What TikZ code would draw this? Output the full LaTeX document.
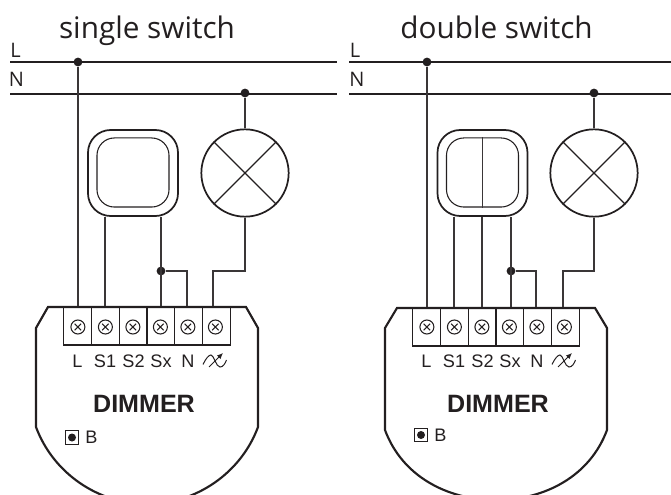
\documentclass[tikz,border=0pt]{standalone}
\usepackage{fontspec}
\setmainfont{Liberation Sans}
\newfontfamily\titlefont{Open Sans}
\usetikzlibrary{shapes.misc,arrows.meta}
\definecolor{ink}{HTML}{231F20}
\definecolor{wireink}{HTML}{3A3637}
\tikzset{
  rail/.style={line width=1.5pt,draw=ink},
  wire/.style={line width=1.2pt,draw=wireink},
  dotnode/.style={circle,fill=ink,inner sep=0pt,minimum size=6.6pt},
  shell/.style={line width=1.6pt,draw=ink},
  terminal/.style={rectangle,draw=ink,line width=.9pt,inner sep=0pt,minimum width=20.85pt,minimum height=28.5pt},
  screw/.style={circle,draw=ink,line width=.8pt,inner sep=0pt,minimum size=10.5pt},
  screwx/.style={cross out,draw=ink,line width=.7pt,inner sep=0pt,minimum size=4.2pt},
  swouter/.style={rectangle,rounded corners=17pt,draw=ink,line width=1.3pt,inner sep=0pt,minimum width=67.5pt,minimum height=64.5pt},
  swinner/.style={rectangle,rounded corners=13pt,draw=ink,line width=.8pt,inner sep=0pt,minimum width=54pt,minimum height=51.8pt},
  lampnode/.style={circle,draw=ink,line width=1.3pt,inner sep=0pt,minimum size=65.5pt},
  lampx/.style={line width=.9pt,draw=ink},
  lbl/.style={inner sep=0pt,text=ink,font=\fontsize{13.6}{15}\selectfont},
  railtext/.style={inner sep=0pt,text=ink,font=\titlefont\fontsize{15}{17}\selectfont},
  title/.style={inner sep=0pt,text=ink,font=\titlefont\fontsize{22.3}{26}\selectfont,anchor=base},
  dimname/.style={inner sep=0pt,text=ink,font=\bfseries\fontsize{18.8}{20}\selectfont},
}
\newcommand{\dimmerbody}[6]{%
  \draw[shell] (#1,328) -- (#1+12,#5) -- (#1+210,#5) -- (#1+222,328) -- (#1+222,#2)
    .. controls (#1+205,#2+46) and (#1+160,#3) .. (#1+111,#3)
    .. controls (#1+62,#3) and (#1+17,#2+46) .. (#1,#2) -- cycle;
  \foreach \nm/\i in {tL/0,tA/1,tB/2,tC/3,tN/4,tD/5}{
    \node[terminal] (\nm) at (#4+13.9+\i*27.8,#5+19) {};
    \node[screw] (s\nm) at (#4+14.4+\i*27.5,327) {};
    \node[screwx] (x\nm) at (#4+14.4+\i*27.5,327) {};
  }
  \node[lbl] (lL) at (#4+14,361) {L};
  \node[lbl] (lA) at (#4+41.5,361) {S1};
  \node[lbl] (lB) at (#4+70,361) {S2};
  \node[lbl] (lC) at (#4+97.5,361) {Sx};
  \node[lbl] (lN) at (#4+124.5,361) {N};
  \node[dimname] (dim) at (#6,404) {DIMMER};
  \begin{scope}[shift={(#4+151.5,361)}]
    \draw[ink,line width=.75pt] (-12,3.5) .. controls (-9,-3) and (-6,-6) .. (-4,-6)
      .. controls (-1,-6) and (1,6) .. (5,6) .. controls (8,6) and (10,3) .. (11.5,-1);
    \draw[ink,line width=.75pt,-{Latex[length=4.5pt,width=4pt]}] (-6,6) -- (8,-8);
  \end{scope}
}
\begin{document}
\begin{tikzpicture}[x=.75pt,y=-.75pt]
\useasboundingbox (0,0) rectangle (671,495);
\clip (0,0) rectangle (671,495);
% ---------- left panel
\begin{scope}[name prefix=a-]
  \node[title] (title) at (147,38.5) {single switch};
  \node[railtext] (rl) at (15.5,50) {L};
  \node[railtext] (rn) at (16.5,79) {N};
  \coordinate (l0) at (10,62); \coordinate (l1) at (337,62);
  \coordinate (n0) at (10,94); \coordinate (n1) at (337,94);
  \draw[rail] (l0) -- (l1);
  \draw[rail] (n0) -- (n1);
  \node[dotnode] (d1) at (78,62) {};
  \node[dotnode] (d2) at (245,93) {};
  \node[swouter] (sw) at (133,173) {};
  \node[swinner] (swi) at (133,172.5) {};
  \node[lampnode] (lamp) at (245,173) {};
  \draw[lampx] (lamp.45) -- (lamp.225) (lamp.135) -- (lamp.315);
  \dimmerbody{36}{427}{504}{63.5}{307}{144}
  \coordinate (b1) at (213,271);
  \coordinate (b2) at (245,271);
  \node[dotnode] (d3) at (161,271) {};
  \draw[wire] (d1) -- (d1 |- tL.north);
  \draw[wire] (d2) -- (lamp.north);
  \draw[wire] (sw.south -| tA.north) -- (tA.north);
  \draw[wire] (sw.south -| d3) -- (d3 |- tC.north);
  \draw[wire] (d3) -| ([xshift=-1pt]tN.north);
  \draw[wire] (lamp.south) -- (b2) -- (b1) -- (b1 |- tD.north);
  \node[rectangle,draw=ink,line width=.7pt,inner sep=0pt,minimum size=10.3pt] (bb) at (72,437.5) {};
  \node[circle,fill=ink,inner sep=0pt,minimum size=6pt] (bd) at (bb) {};
  \node[lbl,anchor=west] (bt) at (85,437) {B};
\end{scope}
% ---------- right panel
\begin{scope}[name prefix=b-]
  \node[title] (title) at (496.5,38.5) {double switch};
  \node[railtext] (rl) at (355,50) {L};
  \node[railtext] (rn) at (357,79) {N};
  \coordinate (l0) at (349,62); \coordinate (l1) at (671,62);
  \coordinate (n0) at (349,94); \coordinate (n1) at (671,94);
  \draw[rail] (l0) -- (l1);
  \draw[rail] (n0) -- (n1);
  \node[dotnode] (d1) at (427,62) {};
  \node[dotnode] (d2) at (594,93) {};
  \node[swouter] (sw) at (482.5,173) {};
  \node[swinner] (swi) at (482.5,172.5) {};
  \draw[wire] (swi.north) -- (swi.south);
  \node[lampnode] (lamp) at (594,173) {};
  \draw[lampx] (lamp.45) -- (lamp.225) (lamp.135) -- (lamp.315);
  \dimmerbody{385}{430}{500}{412.5}{308}{498}
  \coordinate (b1) at (563,271);
  \coordinate (b2) at (594,271);
  \node[dotnode] (d3) at (511,271) {};
  \draw[wire] (d1) -- (d1 |- tL.north);
  \draw[wire] (d2) -- (lamp.north);
  \draw[wire] (sw.south -| tA.north) -- (tA.north);
  \draw[wire] (sw.south -| tB.north) -- (tB.north);
  \draw[wire] (sw.south -| d3) -- (d3 |- tC.north);
  \draw[wire] (d3) -| ([xshift=-1pt]tN.north);
  \draw[wire] (lamp.south) -- (b2) -- (b1) -- (b1 |- tD.north);
  \node[rectangle,draw=ink,line width=.7pt,inner sep=0pt,minimum size=10.3pt] (bb) at (421,435) {};
  \node[circle,fill=ink,inner sep=0pt,minimum size=6pt] (bd) at (bb) {};
  \node[lbl,anchor=west] (bt) at (434,435.5) {B};
\end{scope}
\end{tikzpicture}
\end{document}
